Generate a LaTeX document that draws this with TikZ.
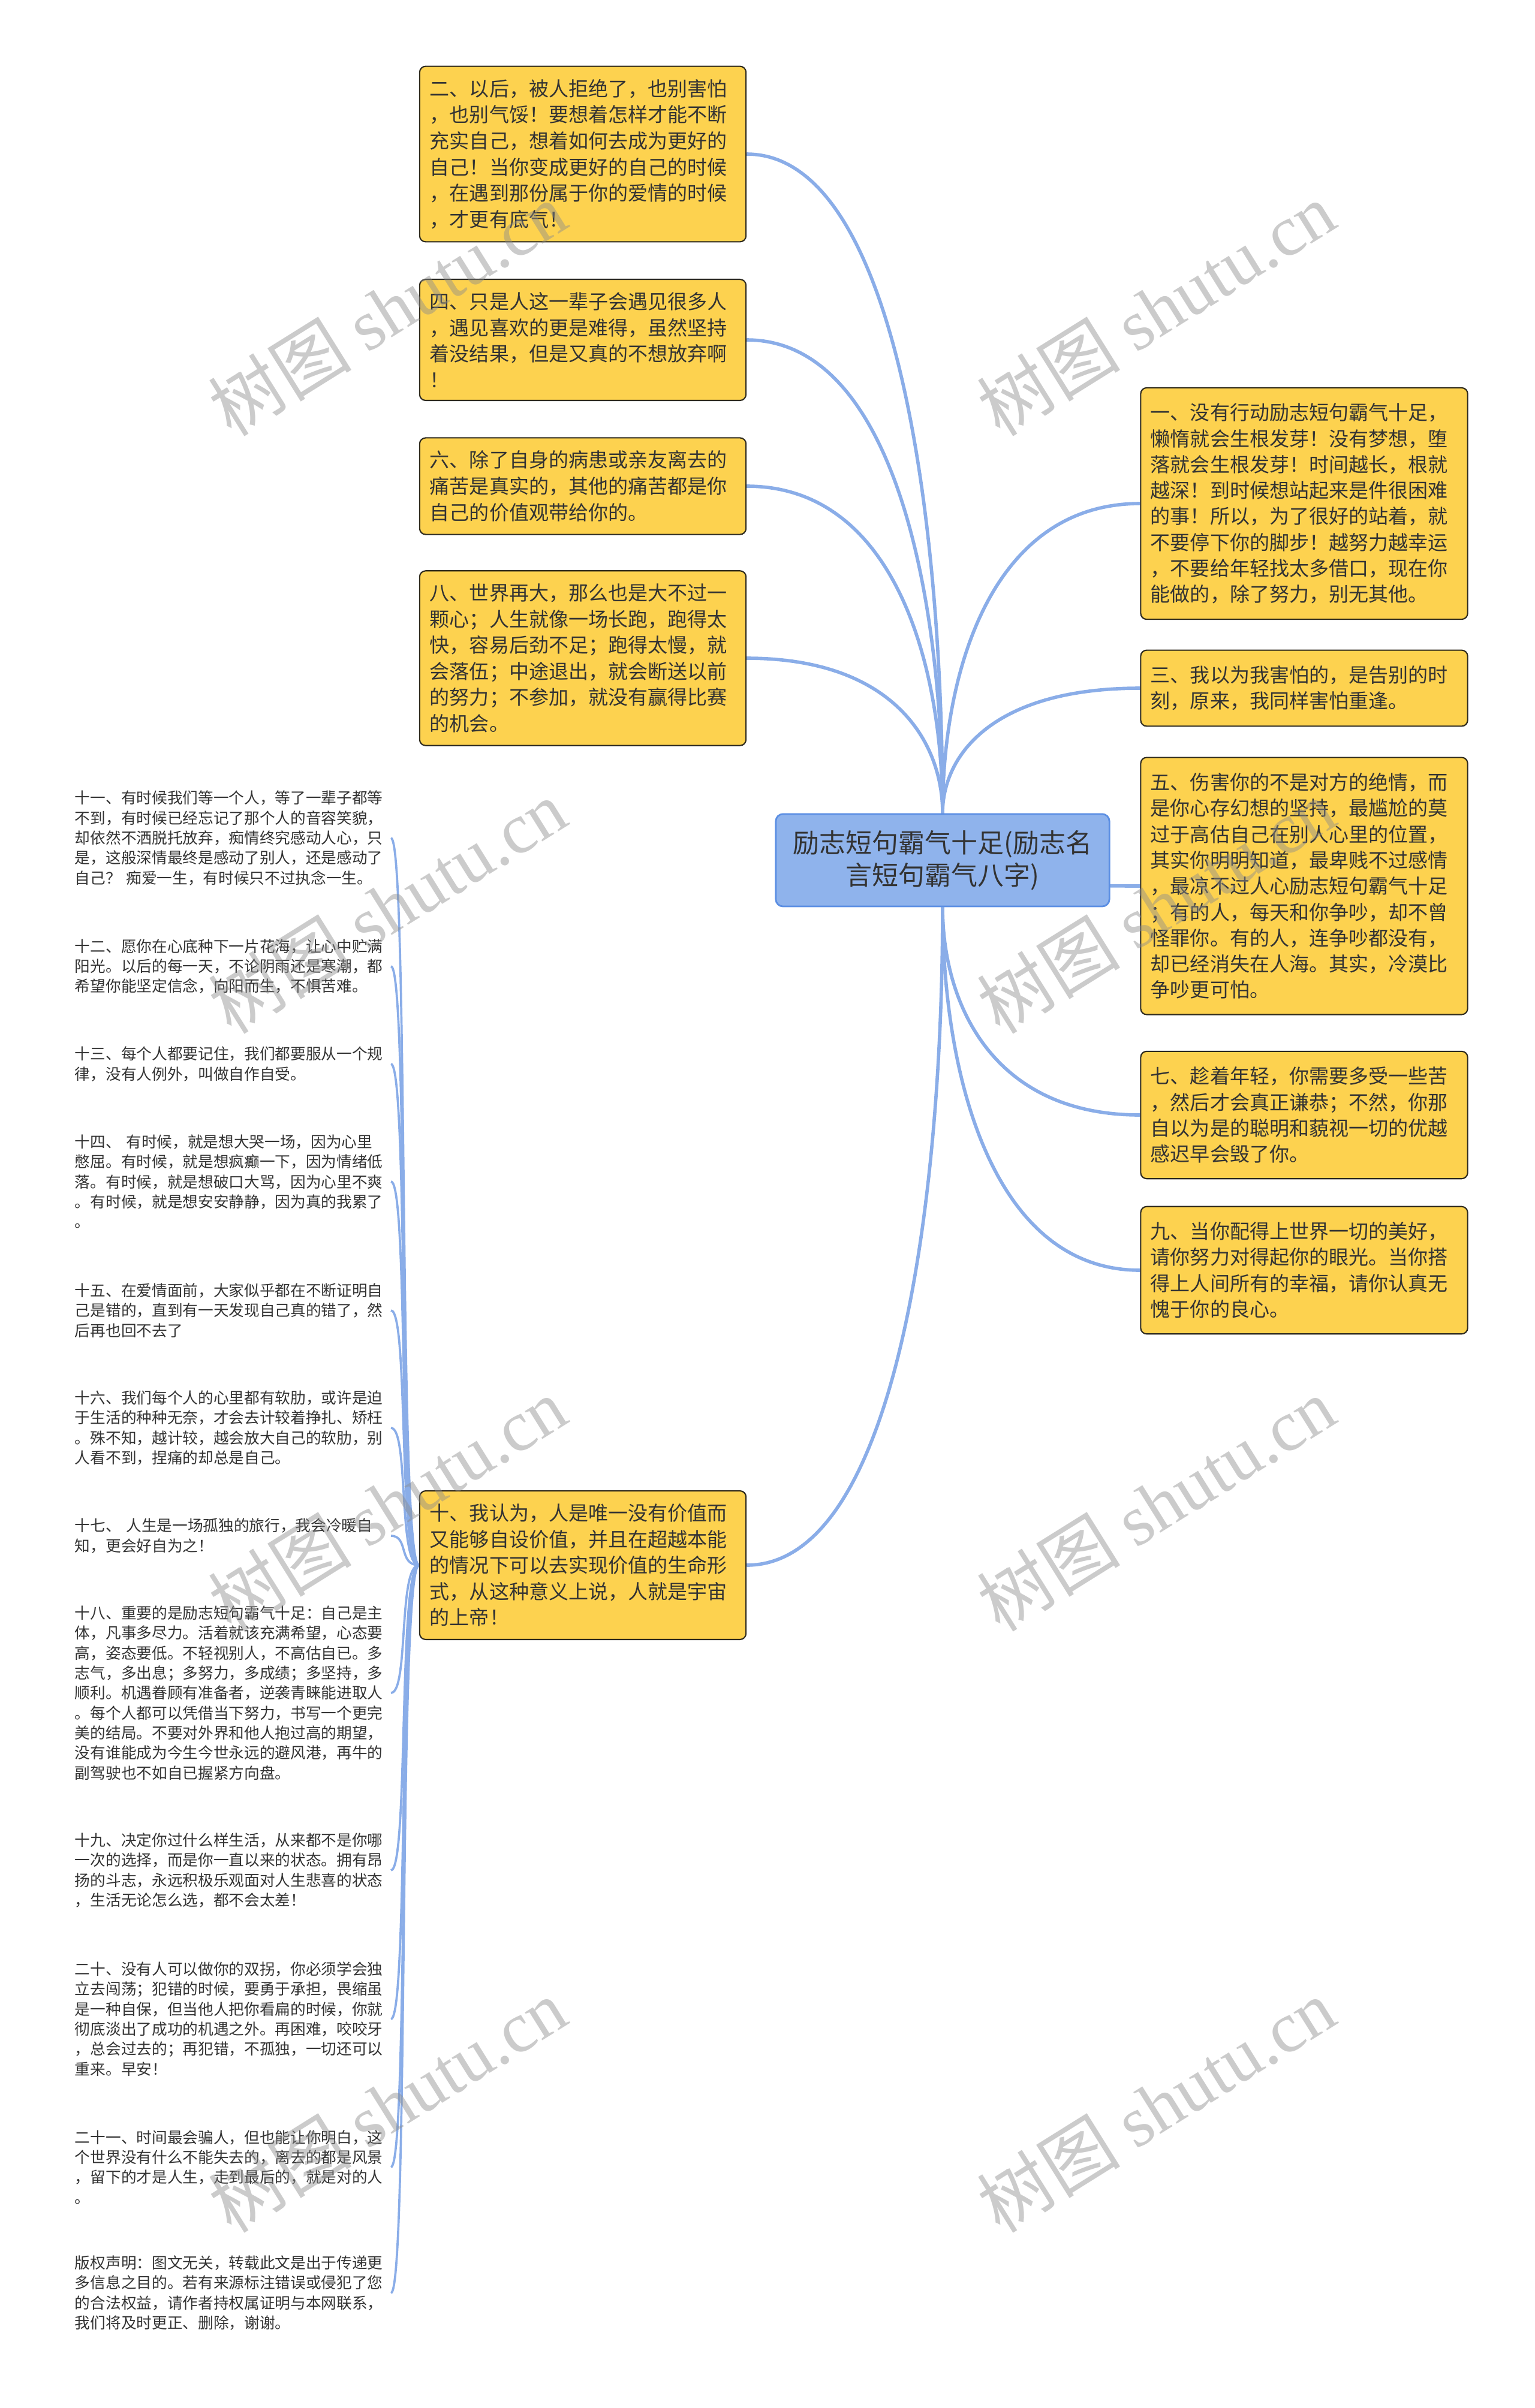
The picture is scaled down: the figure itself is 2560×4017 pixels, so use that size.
\documentclass[tikz,border=0pt]{standalone}
\usepackage{fontspec}
\newfontfamily\cjk{Noto Sans CJK SC}
\newfontfamily\wmserif{Liberation Serif}
\usetikzlibrary{calc}

\definecolor{boxfill}{HTML}{FDD24F}
\definecolor{boxline}{HTML}{2E2A1E}
\definecolor{rootfill}{HTML}{8FB3EC}
\definecolor{rootline}{HTML}{5C8FE3}
\definecolor{linkblue}{HTML}{8AADE8}
\definecolor{textdark}{HTML}{333333}

\pgfdeclarelayer{bg}
\pgfsetlayers{bg,main}

\begin{document}
\begin{tikzpicture}
[
	x=0.01cm, y=-0.01cm,
	leftbox/.style={draw=boxline,fill=boxfill,line width=0.6pt,rounded corners=0.1cm,
		text width=5.1cm,align=left,inner xsep=0.17cm,inner ysep=0.215cm,text=textdark,
		font=\cjk\fontsize{9.4}{12.4}\selectfont},
	rightbox/.style={leftbox,text width=5.12cm,inner xsep=0.165cm,inner ysep=0.26cm,
		font=\cjk\fontsize{9.4}{12.3}\selectfont},
	rootbox/.style={draw=rootline,fill=rootfill,line width=0.8pt,rounded corners=0.12cm,
		minimum width=5.56cm,minimum height=1.54cm,align=center,text=textdark,
		font=\cjk\fontsize{12.5}{15.4}\selectfont},
	tip/.style={anchor=east,text width=5.14cm,align=left,inner xsep=0.12cm,text=textdark,
		font=\cjk\fontsize{7.3}{9.47}\selectfont},
	wmark/.style={rotate=32,text=black!45,text opacity=0.45,font=\cjk\fontsize{34}{40}\selectfont},
	mmcurve/.style={to path={.. controls ($(\tikztostart)!0.46!(\tikztostart|-\tikztotarget)$)
		and ($(\tikztotarget)!0.75!(\tikztostart|-\tikztotarget)$) .. (\tikztotarget)}},
	tipcurve/.style={to path={.. controls +(-35,0) and +(30,0) .. (\tikztotarget)}},
	rootlink/.style={draw=linkblue,line width=1.6pt},
	tiplink/.style={draw=linkblue,line width=1.05pt}
]

	\useasboundingbox (0,0) rectangle (2560,4017);

	% root
	\node[rootbox] (root) at (1572,1435) {励志短句霸气十足(励志名\\言短句霸气八字)};

	% left column
	\node[leftbox] (n2) at (972,257) {二、以后，被人拒绝了，也别害怕\\，也别气馁！要想着怎样才能不断\\充实自己，想着如何去成为更好的\\自己！当你变成更好的自己的时候\\，在遇到那份属于你的爱情的时候\\，才更有底气！};
	\node[leftbox] (n4) at (972,567) {四、只是人这一辈子会遇见很多人\\，遇见喜欢的更是难得，虽然坚持\\着没结果，但是又真的不想放弃啊\\！};
	\node[leftbox] (n6) at (972,811) {六、除了自身的病患或亲友离去的\\痛苦是真实的，其他的痛苦都是你\\自己的价值观带给你的。};
	\node[leftbox] (n8) at (972,1098) {八、世界再大，那么也是大不过一\\颗心；人生就像一场长跑，跑得太\\快，容易后劲不足；跑得太慢，就\\会落伍；中途退出，就会断送以前\\的努力；不参加，就没有赢得比赛\\的机会。};
	\node[leftbox] (n10) at (972,2611) {十、我认为，人是唯一没有价值而\\又能够自设价值，并且在超越本能\\的情况下可以去实现价值的生命形\\式，从这种意义上说，人就是宇宙\\的上帝！};

	% right column
	\node[rightbox] (n1) at (2175,840) {一、没有行动励志短句霸气十足，\\懒惰就会生根发芽！没有梦想，堕\\落就会生根发芽！时间越长，根就\\越深！到时候想站起来是件很困难\\的事！所以，为了很好的站着，就\\不要停下你的脚步！越努力越幸运\\，不要给年轻找太多借口，现在你\\能做的，除了努力，别无其他。};
	\node[rightbox] (n3) at (2175,1148) {三、我以为我害怕的，是告别的时\\刻，原来，我同样害怕重逢。};
	\node[rightbox] (n5) at (2175,1478) {五、伤害你的不是对方的绝情，而\\是你心存幻想的坚持，最尴尬的莫\\过于高估自己在别人心里的位置，\\其实你明明知道，最卑贱不过感情\\，最凉不过人心励志短句霸气十足\\；有的人，每天和你争吵，却不曾\\怪罪你。有的人，连争吵都没有，\\却已经消失在人海。其实，冷漠比\\争吵更可怕。};
	\node[rightbox] (n7) at (2175,1860) {七、趁着年轻，你需要多受一些苦\\，然后才会真正谦恭；不然，你那\\自以为是的聪明和藐视一切的优越\\感迟早会毁了你。};
	\node[rightbox] (n9) at (2175,2119) {九、当你配得上世界一切的美好，\\请你努力对得起你的眼光。当你搭\\得上人间所有的幸福，请你认真无\\愧于你的良心。};

	% tips under ten
	\node[tip] (n11) at (652,1398) {十一、有时候我们等一个人，等了一辈子都等\\不到，有时候已经忘记了那个人的音容笑貌，\\却依然不洒脱托放弃，痴情终究感动人心，只\\是，这般深情最终是感动了别人，还是感动了\\自己？ 痴爱一生，有时候只不过执念一生。};
	\node[tip] (n12) at (652,1612) {十二、愿你在心底种下一片花海，让心中贮满\\阳光。以后的每一天，不论阴雨还是寒潮，都\\希望你能坚定信念，向阳而生，不惧苦难。};
	\node[tip] (n13) at (652,1775) {十三、每个人都要记住，我们都要服从一个规\\律，没有人例外，叫做自作自受。};
	\node[tip] (n14) at (652,1971) {十四、 有时候，就是想大哭一场，因为心里\\憋屈。有时候，就是想疯癫一下，因为情绪低\\落。有时候，就是想破口大骂，因为心里不爽\\。有时候，就是想安安静静，因为真的我累了\\。};
	\node[tip] (n15) at (652,2186) {十五、在爱情面前，大家似乎都在不断证明自\\己是错的，直到有一天发现自己真的错了，然\\后再也回不去了};
	\node[tip] (n16) at (652,2382) {十六、我们每个人的心里都有软肋，或许是迫\\于生活的种种无奈，才会去计较着挣扎、矫枉\\。殊不知，越计较，越会放大自己的软肋，别\\人看不到，捏痛的却总是自己。};
	\node[tip] (n17) at (652,2562) {十七、 人生是一场孤独的旅行，我会冷暖自\\知，更会好自为之！};
	\node[tip] (n18) at (652,2824) {十八、重要的是励志短句霸气十足：自己是主\\体，凡事多尽力。活着就该充满希望，心态要\\高，姿态要低。不轻视别人，不高估自已。多\\志气，多出息；多努力，多成绩；多坚持，多\\顺利。机遇眷顾有准备者，逆袭青睐能进取人\\。每个人都可以凭借当下努力，书写一个更完\\美的结局。不要对外界和他人抱过高的期望，\\没有谁能成为今生今世永远的避风港，再牛的\\副驾驶也不如自已握紧方向盘。};
	\node[tip] (n19) at (652,3120) {十九、决定你过什么样生活，从来都不是你哪\\一次的选择，而是你一直以来的状态。拥有昂\\扬的斗志，永远积极乐观面对人生悲喜的状态\\，生活无论怎么选，都不会太差！};
	\node[tip] (n20) at (652,3368) {二十、没有人可以做你的双拐，你必须学会独\\立去闯荡；犯错的时候，要勇于承担，畏缩虽\\是一种自保，但当他人把你看扁的时候，你就\\彻底淡出了成功的机遇之外。再困难，咬咬牙\\，总会过去的；再犯错，不孤独，一切还可以\\重来。早安！};
	\node[tip] (n21) at (652,3615) {二十一、时间最会骗人，但也能让你明白，这\\个世界没有什么不能失去的，离去的都是风景\\，留下的才是人生，走到最后的，就是对的人\\。};
	\node[tip] (note) at (652,3825) {版权声明：图文无关，转载此文是出于传递更\\多信息之目的。若有来源标注错误或侵犯了您\\的合法权益，请作者持权属证明与本网联系，\\我们将及时更正、删除，谢谢。};

	% links
	\begin{pgfonlayer}{bg}
		\fill[white] (0,0) rectangle (2560,4017);
		\foreach \n in {n2,n4,n6,n8} {
			\draw[rootlink] (root.north) to[mmcurve] (\n.east);
		}
		\foreach \n in {n1,n3} {
			\draw[rootlink] (root.north) to[mmcurve] (\n.west);
		}
		\draw[rootlink] (root.center) to[mmcurve] (n5.west);
		\foreach \n in {n7,n9} {
			\draw[rootlink] (root.south) to[mmcurve] (\n.west);
		}
		\draw[rootlink] (root.south) to[mmcurve] (n10.east);
		\foreach \n in {n11,n12,n13,n14,n15,n16,n17,n18,n19,n20,n21,note} {
			\draw[tiplink] (n10.west) to[tipcurve] (\n.east);
		}
	\end{pgfonlayer}

	% watermark
	\foreach \wx in {646,1928} {
		\foreach \wy in {515,1512,2509,3512} {
			\node[wmark] (wm\wx\wy) at (\wx,\wy) {树图 {\wmserif shutu.cn}};
		}
	}

\end{tikzpicture}
\end{document}
